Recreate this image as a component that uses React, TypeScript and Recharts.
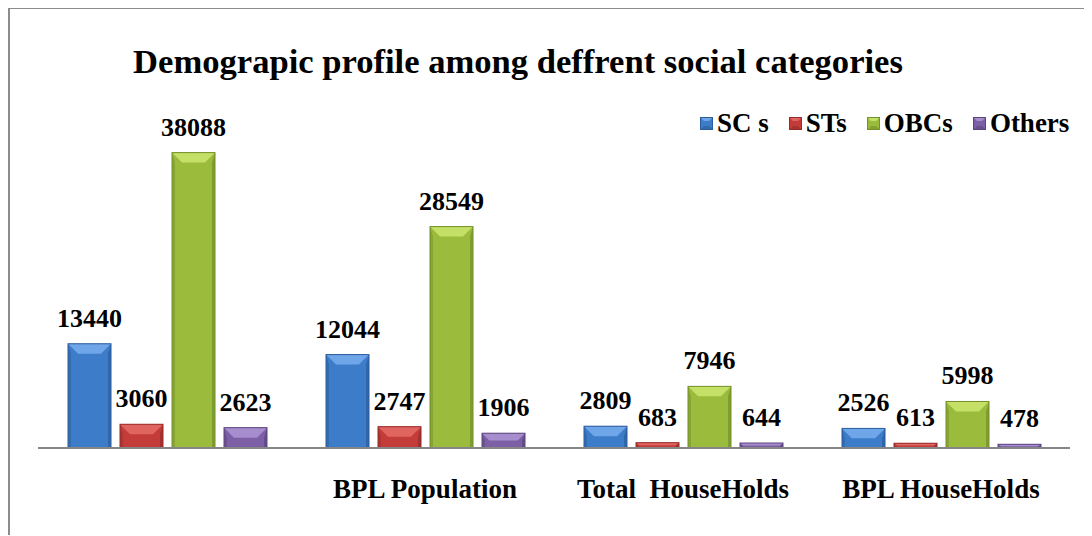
import { BarChart, Bar, XAxis, YAxis, LabelList } from "recharts";

const categories = ["", "BPL Population", "Total  HouseHolds", "BPL HouseHolds"];
const scValues = [13440, 12044, 2809, 2526];
const stValues = [3060, 2747, 683, 613];
const obcValues = [38088, 28549, 7946, 5998];
const otherValues = [2623, 1906, 644, 478];

const SERIES = [
  { key: "sc", name: "SC s", main: "#3d7cc9", light: "#6fa6ea", dark: "#2b5c9c" },
  { key: "st", name: "STs", main: "#c43c39", light: "#e0645f", dark: "#962b29" },
  { key: "obc", name: "OBCs", main: "#9bbb3c", light: "#c4e067", dark: "#74902a" },
  { key: "other", name: "Others", main: "#7d5fa6", light: "#a68dce", dark: "#5b457e" },
];

const FONT = "Liberation Serif, DejaVu Serif, serif";

const data = categories.map((name, i) => ({
  name,
  sc: scValues[i],
  st: stValues[i],
  obc: obcValues[i],
  other: otherValues[i],
}));

function bevelShape(c: { main: string; light: string; dark: string }) {
  return (props: any) => {
    const { x, y, width: w, height: h } = props;
    if (!h || h <= 0) return <g />;
    const b = Math.min(10, h / 2, w / 4);
    const s = Math.min(3, w / 8);
    return (
      <g>
        <rect x={x} y={y} width={w} height={h} fill={c.main} />
        <polygon
          points={`${x},${y} ${x + w},${y} ${x + w - b},${y + b} ${x + b},${y + b}`}
          fill={c.light}
        />
        <polygon
          points={`${x},${y} ${x + s},${y + b} ${x + s},${y + h} ${x},${y + h}`}
          fill={c.dark}
          opacity={0.5}
        />
        <polygon
          points={`${x + w},${y} ${x + w - s},${y + b} ${x + w - s},${y + h} ${x + w},${y + h}`}
          fill={c.dark}
          opacity={0.7}
        />
        <rect x={x} y={y} width={w} height={h} fill="none" stroke={c.dark} strokeWidth={1} />
      </g>
    );
  };
}

function CategoryTick(props: any) {
  const { x, y, payload } = props;
  return (
    <text
      x={x}
      y={y + 42}
      textAnchor="middle"
      fontFamily={FONT}
      fontWeight="bold"
      fontSize={27}
      fill="#000"
      style={{ whiteSpace: "pre" }}
    >
      {payload.value}
    </text>
  );
}

function LegendIcon({ c }: { c: { main: string; light: string; dark: string } }) {
  return (
    <svg width={13} height={13} style={{ display: "block" }}>
      <rect x={0} y={0} width={13} height={13} fill={c.main} />
      <polygon points="0,0 13,0 9,4 4,4" fill={c.light} />
      <polygon points="0,13 13,13 9,9 4,9" fill={c.dark} opacity={0.6} />
      <rect x={0.5} y={0.5} width={12} height={12} fill="none" stroke={c.dark} />
    </svg>
  );
}

export default function App() {
  return (
    <div
      style={{
        position: "relative",
        width: 1084,
        height: 528,
        marginTop: -1,
        borderLeft: "2px solid #8c8c8c",
        borderTop: "2px solid #8c8c8c",
        boxSizing: "border-box",
        background: "#fff",
        fontFamily: FONT,
      }}
    >
      <div
        style={{
          position: "absolute",
          left: 0,
          top: 35,
          width: 1016,
          textAlign: "center",
          fontSize: 34.6,
          lineHeight: 1,
          fontWeight: "bold",
          color: "#000",
        }}
      >
        Demograpic profile among deffrent social categories
      </div>
      <div
        style={{
          position: "absolute",
          left: 690,
          top: 101,
          display: "flex",
          alignItems: "center",
          gap: 20,
          fontSize: 27,
          lineHeight: 1,
          fontWeight: "bold",
          color: "#000",
        }}
      >
        {SERIES.map((s) => (
          <div key={s.key} style={{ display: "flex", alignItems: "center" }}>
            <LegendIcon c={s} />
            <span style={{ marginLeft: 4 }}>{s.name}</span>
          </div>
        ))}
      </div>
      <BarChart
        width={1082}
        height={526}
        data={data}
        margin={{ top: 90, right: 22, left: 28, bottom: 27 }}
        barCategoryGap={30}
        barGap={9}
      >
        <XAxis
          dataKey="name"
          height={60}
          tickLine={false}
          axisLine={{ stroke: "#868686", strokeWidth: 2 }}
          tick={<CategoryTick />}
          interval={0}
        />
        <YAxis hide domain={[0, 45000]} />
        {SERIES.map((s) => (
          <Bar
            key={s.key}
            dataKey={s.key}
            name={s.name}
            shape={bevelShape(s)}
            isAnimationActive={false}
          >
            <LabelList
              dataKey={s.key}
              position="top"
              offset={17}
              fill="#000"
              fontFamily={FONT}
              fontWeight="bold"
              fontSize={26}
            />
          </Bar>
        ))}
      </BarChart>
    </div>
  );
}
